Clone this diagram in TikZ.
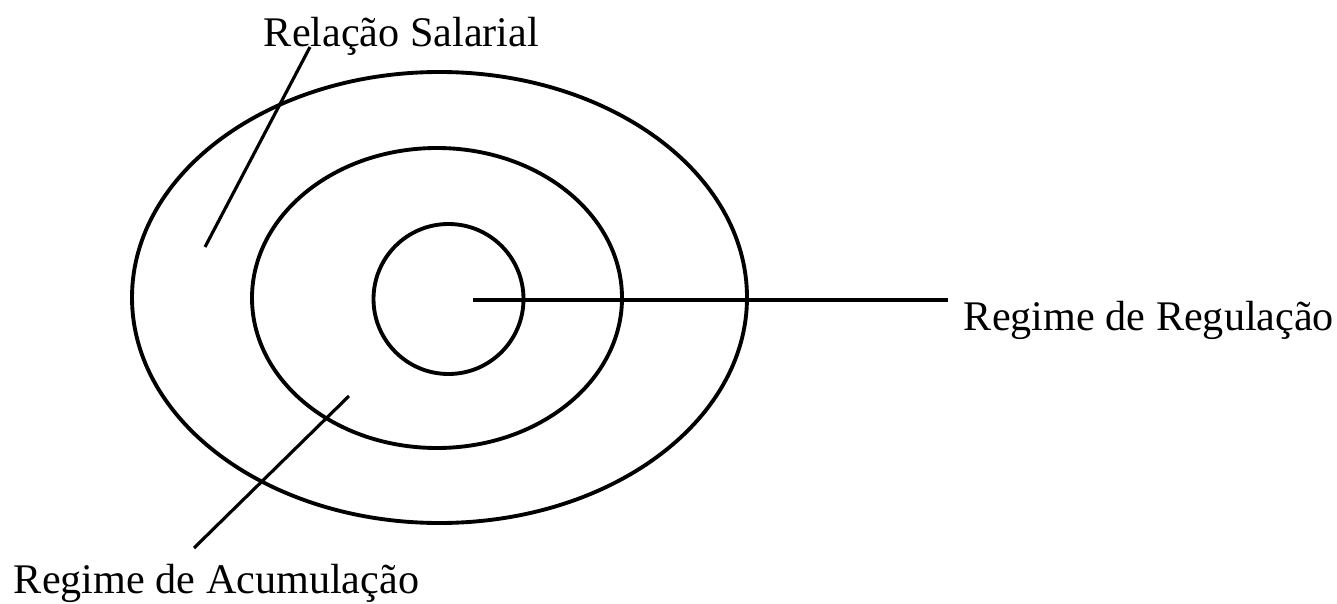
\documentclass[tikz,border=0pt]{standalone}
\usepackage{fontspec}
\setmainfont{Liberation Serif}
\usetikzlibrary{calc}

\begin{document}
\begin{tikzpicture}[line width=1.1pt,
    lbl/.style={font=\fontsize{12}{14}\selectfont,inner sep=0pt},
    lead/.style={line width=0.9pt}]
  \useasboundingbox (0,0) rectangle (13.37,6.03);
  % three nested rings
  \draw (4.395,3.055) ellipse (3.075 and 2.255);
  \draw (4.37,3.05) ellipse (1.85 and 1.50);
  \draw (4.485,3.04) circle (0.75);
  % labels
  \node[lbl,anchor=base west] (salarial) at (2.62,5.56) {Relação Salarial};
  \node[lbl,anchor=base west] (regulacao) at (9.62,2.73) {Regime de Regulação};
  \node[lbl,anchor=base west] (acumulacao) at (0.12,0.10) {Regime de Acumulação};
  % leader lines
  \coordinate (salfoot) at (2.05,3.56);
  \coordinate (saltop) at (3.10,5.56);
  \coordinate (regin) at (4.73,3.03);
  \coordinate (regout) at (9.48,3.03);
  \coordinate (acuin) at (3.49,2.07);
  \coordinate (acuout) at (1.94,0.55);
  \draw[lead] (salfoot) -- (saltop);
  \draw[lead] (regin) -- (regout);
  \draw[lead] (acuin) -- (acuout);
\end{tikzpicture}
\end{document}
